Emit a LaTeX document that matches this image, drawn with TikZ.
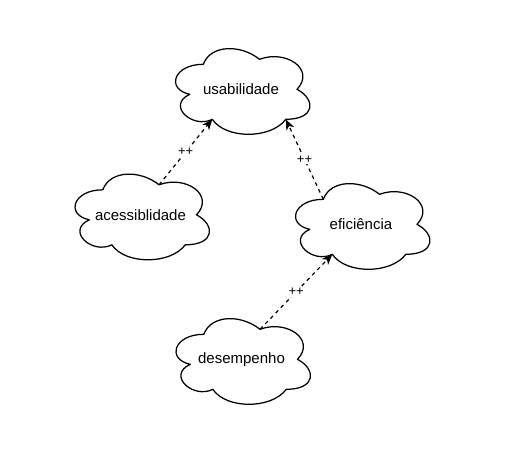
\documentclass[tikz,border=0pt]{standalone}
\usepackage{fontspec}
\setmainfont{Liberation Sans}
\usetikzlibrary{arrows.meta,calc}
\tikzset{
  cloudbox/.style={rectangle,draw=none,minimum width=150pt,minimum height=100pt,inner sep=0pt,font=\fontsize{15}{18}\selectfont,text=black},
  cloudline/.style={draw=black,line width=1.25pt,line join=round},
  edge/.style={draw=black,line width=1.2pt,dash pattern=on 3.75pt off 3.75pt,-{Stealth[length=10.5pt,width=8.5pt,inset=3pt]}},
  lbl/.style={fill=white,inner sep=1pt,font=\fontsize{13}{15}\selectfont,text=black}
}
\newcommand{\cloudat}[1]{%
  \draw[cloudline] ([shift={(37.5,25)}]#1.north west)
    .. controls ([shift={(7.5,25)}]#1.north west) and ([shift={(0,50)}]#1.north west) .. ([shift={(24,55)}]#1.north west)
    .. controls ([shift={(0,66)}]#1.north west) and ([shift={(27,90)}]#1.north west) .. ([shift={(46.5,80)}]#1.north west)
    .. controls ([shift={(60,100)}]#1.north west) and ([shift={(105,100)}]#1.north west) .. ([shift={(120,80)}]#1.north west)
    .. controls ([shift={(150,80)}]#1.north west) and ([shift={(150,60)}]#1.north west) .. ([shift={(131.25,50)}]#1.north west)
    .. controls ([shift={(150,30)}]#1.north west) and ([shift={(120,10)}]#1.north west) .. ([shift={(93.75,20)}]#1.north west)
    .. controls ([shift={(75,5)}]#1.north west) and ([shift={(45,5)}]#1.north west) .. ([shift={(37.5,25)}]#1.north west) -- cycle;%
}
\begin{document}
\begin{tikzpicture}[x=1pt,y=-1pt]
\useasboundingbox[fill=white] (0,0) rectangle (521,456);
\node[cloudbox] (u) at (241,89.5) {usabilidade};
\node[cloudbox] (a) at (140.5,215) {acessiblidade};
\node[cloudbox] (e) at (361,224.5) {eficiência};
\node[cloudbox] (d) at (241.5,359.5) {desempenho};
\cloudat{u}
\cloudat{a}
\cloudat{e}
\cloudat{d}
\coordinate (ubl) at ([shift={(46.5,80)}]u.north west);
\coordinate (ubr) at ([shift={(120,80)}]u.north west);
\coordinate (atr) at ([shift={(93.75,20)}]a.north west);
\coordinate (etl) at ([shift={(37.5,25)}]e.north west);
\coordinate (ebl) at ([shift={(46.5,80)}]e.north west);
\coordinate (dtr) at ([shift={(93.75,20)}]d.north west);
\draw[edge] (atr) -- node[lbl] {++} (ubl);
\draw[edge] (etl) -- node[lbl] {++} (ubr);
\draw[edge] (dtr) -- node[lbl] {++} (ebl);
\end{tikzpicture}
\end{document}
